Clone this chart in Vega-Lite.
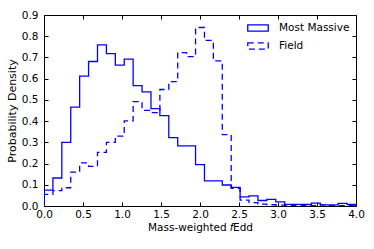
{
  "$schema": "https://vega.github.io/schema/vega-lite/v6.json",
  "width": 312,
  "height": 191,
  "autosize": {"type": "none"},
  "padding": {"left": 44, "top": 15, "right": 18, "bottom": 43},
  "config": {
    "font": "DejaVu Sans",
    "view": {"stroke": "black", "strokeWidth": 1},
    "axis": {
      "domain": false,
      "grid": false,
      "tickColor": "black",
      "tickSize": -4,
      "labelFontSize": 10.5,
      "labelColor": "black",
      "titleFontSize": 10.5,
      "titleFontWeight": "normal",
      "titleColor": "black",
      "labelFont": "DejaVu Sans",
      "titleFont": "DejaVu Sans"
    }
  },
  "data": {
    "values": [
      {"series": "Most Massive", "x": 0, "y": 0},
      {"series": "Most Massive", "x": 0, "y": 0.075},
      {"series": "Most Massive", "x": 0.1143, "y": 0.132},
      {"series": "Most Massive", "x": 0.2286, "y": 0.300},
      {"series": "Most Massive", "x": 0.3429, "y": 0.466},
      {"series": "Most Massive", "x": 0.4571, "y": 0.612},
      {"series": "Most Massive", "x": 0.5714, "y": 0.681},
      {"series": "Most Massive", "x": 0.6857, "y": 0.759},
      {"series": "Most Massive", "x": 0.8, "y": 0.718},
      {"series": "Most Massive", "x": 0.9143, "y": 0.664},
      {"series": "Most Massive", "x": 1.0286, "y": 0.692},
      {"series": "Most Massive", "x": 1.1429, "y": 0.567},
      {"series": "Most Massive", "x": 1.2571, "y": 0.538},
      {"series": "Most Massive", "x": 1.3714, "y": 0.459},
      {"series": "Most Massive", "x": 1.4857, "y": 0.426},
      {"series": "Most Massive", "x": 1.6, "y": 0.322},
      {"series": "Most Massive", "x": 1.7143, "y": 0.283},
      {"series": "Most Massive", "x": 1.8286, "y": 0.283},
      {"series": "Most Massive", "x": 1.9429, "y": 0.195},
      {"series": "Most Massive", "x": 2.0571, "y": 0.118},
      {"series": "Most Massive", "x": 2.1714, "y": 0.118},
      {"series": "Most Massive", "x": 2.2857, "y": 0.099},
      {"series": "Most Massive", "x": 2.4, "y": 0.088},
      {"series": "Most Massive", "x": 2.5143, "y": 0.043},
      {"series": "Most Massive", "x": 2.6286, "y": 0.048},
      {"series": "Most Massive", "x": 2.7429, "y": 0.026},
      {"series": "Most Massive", "x": 2.8571, "y": 0.031},
      {"series": "Most Massive", "x": 2.9714, "y": 0.019},
      {"series": "Most Massive", "x": 3.0857, "y": 0.008},
      {"series": "Most Massive", "x": 3.2, "y": 0.008},
      {"series": "Most Massive", "x": 3.3143, "y": 0.007},
      {"series": "Most Massive", "x": 3.4286, "y": 0.014},
      {"series": "Most Massive", "x": 3.5429, "y": 0.005},
      {"series": "Most Massive", "x": 3.6571, "y": 0.005},
      {"series": "Most Massive", "x": 3.7714, "y": 0.012},
      {"series": "Most Massive", "x": 3.8857, "y": 0.007},
      {"series": "Most Massive", "x": 4.0, "y": 0},
      {"series": "Field", "x": 0, "y": 0},
      {"series": "Field", "x": 0, "y": 0.055},
      {"series": "Field", "x": 0.1143, "y": 0.072},
      {"series": "Field", "x": 0.2286, "y": 0.086},
      {"series": "Field", "x": 0.3429, "y": 0.160},
      {"series": "Field", "x": 0.4571, "y": 0.203},
      {"series": "Field", "x": 0.5714, "y": 0.187},
      {"series": "Field", "x": 0.6857, "y": 0.253},
      {"series": "Field", "x": 0.8, "y": 0.300},
      {"series": "Field", "x": 0.9143, "y": 0.329},
      {"series": "Field", "x": 1.0286, "y": 0.401},
      {"series": "Field", "x": 1.1429, "y": 0.492},
      {"series": "Field", "x": 1.2571, "y": 0.451},
      {"series": "Field", "x": 1.3714, "y": 0.440},
      {"series": "Field", "x": 1.4857, "y": 0.549},
      {"series": "Field", "x": 1.6, "y": 0.586},
      {"series": "Field", "x": 1.7143, "y": 0.723},
      {"series": "Field", "x": 1.8286, "y": 0.704},
      {"series": "Field", "x": 1.9429, "y": 0.841},
      {"series": "Field", "x": 2.0571, "y": 0.780},
      {"series": "Field", "x": 2.1714, "y": 0.684},
      {"series": "Field", "x": 2.2857, "y": 0.336},
      {"series": "Field", "x": 2.4, "y": 0.083},
      {"series": "Field", "x": 2.5143, "y": 0.028},
      {"series": "Field", "x": 2.6286, "y": 0.016},
      {"series": "Field", "x": 2.7429, "y": 0.009},
      {"series": "Field", "x": 2.8571, "y": 0.006},
      {"series": "Field", "x": 2.9714, "y": 0.004},
      {"series": "Field", "x": 3.0857, "y": 0.003},
      {"series": "Field", "x": 3.2, "y": 0.002},
      {"series": "Field", "x": 3.3143, "y": 0.003},
      {"series": "Field", "x": 3.4286, "y": 0.002},
      {"series": "Field", "x": 3.5429, "y": 0.005},
      {"series": "Field", "x": 3.6571, "y": 0.002},
      {"series": "Field", "x": 3.7714, "y": 0.002},
      {"series": "Field", "x": 3.8857, "y": 0.002},
      {"series": "Field", "x": 4.0, "y": 0}
    ]
  },
  "layer": [
    {
      "mark": {"type": "line", "interpolate": "step-after", "strokeWidth": 1.3, "color": "#0000ff", "clip": true},
      "encoding": {
        "x": {
          "field": "x", "type": "quantitative",
          "scale": {"domain": [0, 4], "nice": false, "zero": false},
          "axis": {"orient": "bottom", "values": [0, 0.5, 1, 1.5, 2, 2.5, 3, 3.5, 4], "format": ".1f", "labelPadding": 7, "labelFlush": false, "title": "Mass-weighted 𝑓Edd", "titlePadding": 3}
        },
        "y": {
          "field": "y", "type": "quantitative",
          "scale": {"domain": [0, 0.9], "nice": false},
          "axis": {"orient": "left", "values": [0, 0.1, 0.2, 0.3, 0.4, 0.5, 0.6, 0.7, 0.8, 0.9], "format": ".1f", "labelPadding": 10, "title": "Probability Density", "titlePadding": 4, "titleFontSize": 11}
        },
        "strokeDash": {
          "field": "series", "type": "nominal",
          "scale": {"domain": ["Most Massive", "Field"], "range": [[1, 0], [6, 4]]},
          "legend": {
            "title": null,
            "orient": "none",
            "legendX": 201,
            "legendY": 0,
            "padding": 2,
            "symbolType": "M-1,-0.3H1V0.3H-1Z",
            "symbolSize": 420,
            "symbolStrokeColor": "#0000ff",
            "symbolFillColor": "transparent",
            "symbolStrokeWidth": 1.3,
            "labelFontSize": 10.5,
            "labelColor": "black",
            "labelOffset": 10,
            "rowPadding": 1
          }
        }
      }
    },
    {
      "mark": {"type": "point", "opacity": 0},
      "encoding": {
        "x": {"field": "x", "type": "quantitative", "scale": {"domain": [0, 4], "nice": false, "zero": false},
          "axis": {"orient": "top", "values": [0, 0.5, 1, 1.5, 2, 2.5, 3, 3.5, 4], "labels": false, "title": null}},
        "y": {"field": "y", "type": "quantitative", "scale": {"domain": [0, 0.9], "nice": false},
          "axis": {"orient": "right", "values": [0, 0.1, 0.2, 0.3, 0.4, 0.5, 0.6, 0.7, 0.8, 0.9], "labels": false, "title": null}}
      }
    }
  ],
  "resolve": {"axis": {"x": "independent", "y": "independent"}}
}
